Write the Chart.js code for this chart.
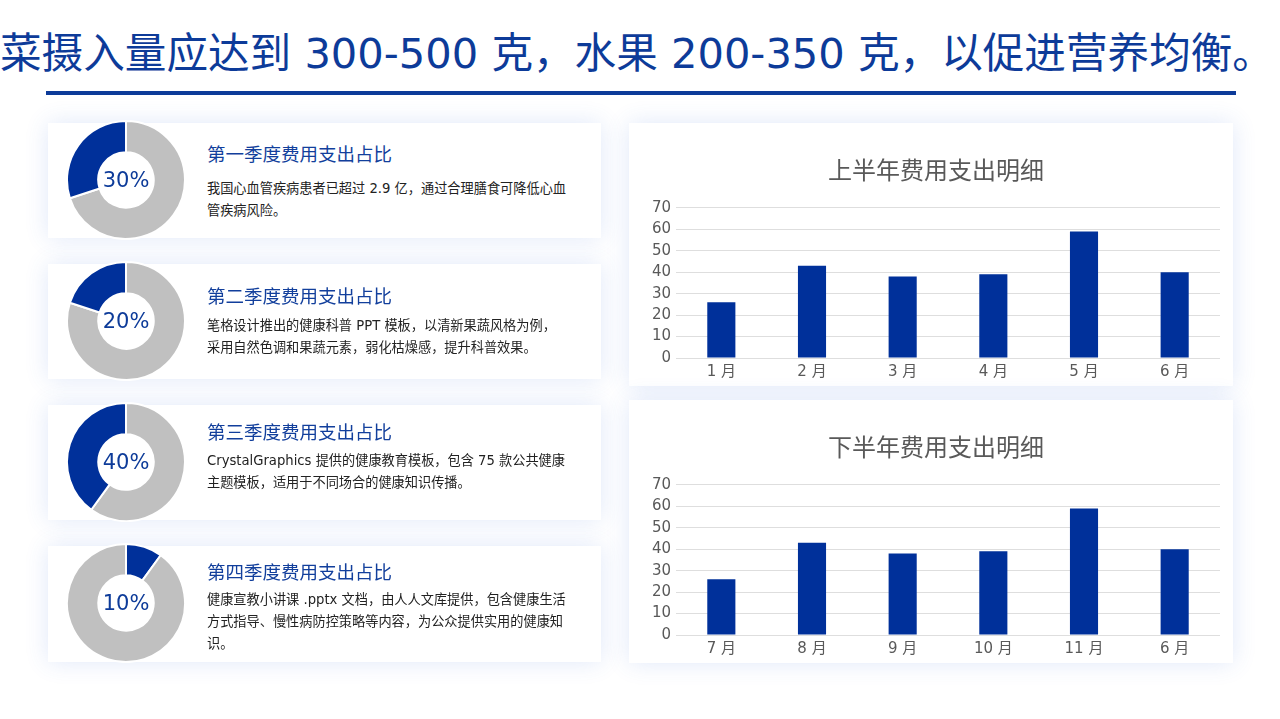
<!DOCTYPE html>
<html lang="zh">
<head>
<meta charset="utf-8">
<script src="https://cdn.jsdelivr.net/npm/chart.js@4"></script>
<style>
  html, body { margin: 0; padding: 0; background: #fff; }
  body { width: 1280px; height: 719px; overflow: hidden; position: relative;
         font-family: "DejaVu Sans", "Noto Sans CJK SC", sans-serif; }
  .page-title { position: absolute; left: 0; top: 29px; font-size: 41.6px; line-height: 50px;
                color: #0d3b99; white-space: nowrap; }
  .rule { position: absolute; left: 46px; top: 91px; width: 1190px; height: 4px; background: #0d3b99; }
  .card { position: absolute; background: #fff; box-shadow: 0 0 22px rgba(60, 110, 220, 0.16); }
  .donut { position: absolute; width: 120px; height: 120px; }
  .pct { position: absolute; width: 120px; height: 120px; line-height: 120px; text-align: center;
         font-size: 21px; color: #0d3b99; }
  .q-title { position: absolute; left: 207px; font-size: 18.5px; line-height: 24px; color: #123f9c; white-space: nowrap; }
  .q-text { position: absolute; left: 207px; font-size: 13.2px; line-height: 22px; color: #222; white-space: nowrap; }
  .bar-card { position: absolute; left: 629px; width: 604px; height: 263px; }
</style>
</head>
<body>
<div class="page-title">菜摄入量应达到 300-500 克，水果 200-350 克，以促进营养均衡。</div>
<div class="rule"></div>
<div id="quarters"></div>
<div class="card bar-card" style="top:123px"><canvas id="chart-h1"></canvas></div>
<div class="card bar-card" style="top:400px"><canvas id="chart-h2"></canvas></div>

<script>
// quarter share donuts
const quarterTitles = ['第一季度费用支出占比', '第二季度费用支出占比', '第三季度费用支出占比', '第四季度费用支出占比'];
const quarterShares = [30, 20, 40, 10];
const quarterBlueFirst = [false, false, false, true];
const quarterTexts = [
  ['我国心血管疾病患者已超过 2.9 亿，通过合理膳食可降低心血', '管疾病风险。'],
  ['笔格设计推出的健康科普 PPT 模板，以清新果蔬风格为例，', '采用自然色调和果蔬元素，弱化枯燥感，提升科普效果。'],
  ['CrystalGraphics 提供的健康教育模板，包含 75 款公共健康', '主题模板，适用于不同场合的健康知识传播。'],
  ['健康宣教小讲课 .pptx 文档，由人人文库提供，包含健康生活', '方式指导、慢性病防控策略等内容，为公众提供实用的健康知', '识。']
];

// half-year bars
const h1Title = '上半年费用支出明细';
const h1Labels = ['1 月', '2 月', '3 月', '4 月', '5 月', '6 月'];
const h1Values = [26, 43, 38, 39, 59, 40];
const h2Title = '下半年费用支出明细';
const h2Labels = ['7 月', '8 月', '9 月', '10 月', '11 月', '6 月'];
const h2Values = [26, 43, 38, 39, 59, 40];
const yTicksMax = 70;

const BLUE = '#00309a';
const GREY = '#c0c0c0';
const FONT = '"DejaVu Sans", "Noto Sans CJK SC", sans-serif';
Chart.defaults.font.family = FONT;

// layout of the left cards
const cardTops = [123, 264, 405, 546];
const cardHeights = [115, 115, 115, 116];
const donutCentres = [180, 321, 462, 603];
const titleTops = [143, 285, 421, 561];
const textTops = [178, 315, 450, 589];

const wrap = document.getElementById('quarters');
quarterShares.forEach((share, i) => {
  wrap.insertAdjacentHTML('beforeend', `
    <div class="card" style="left:48px;top:${cardTops[i]}px;width:553px;height:${cardHeights[i]}px"></div>
    <div class="donut" style="left:66px;top:${donutCentres[i] - 60}px"><canvas id="donut-${i}"></canvas></div>
    <div class="pct" style="left:66px;top:${donutCentres[i] - 60}px">${share}%</div>
    <div class="q-title" style="top:${titleTops[i]}px">${quarterTitles[i]}</div>
    <div class="q-text" style="top:${textTops[i]}px">${quarterTexts[i].join('<br>')}</div>
  `);
});

quarterShares.forEach((share, i) => {
  const first = quarterBlueFirst[i];
  new Chart(document.getElementById('donut-' + i), {
    type: 'doughnut',
    data: {
      labels: first ? ['占比', '其他'] : ['其他', '占比'],
      datasets: [{
        data: first ? [share, 100 - share] : [100 - share, share],
        backgroundColor: first ? [BLUE, GREY] : [GREY, BLUE],
        borderColor: '#fff',
        borderWidth: 2
      }]
    },
    options: {
      responsive: true,
      maintainAspectRatio: false,
      animation: false,
      cutout: '47%',
      layout: { padding: 0 },
      plugins: { legend: { display: false }, tooltip: { enabled: false } }
    }
  });
});

function barChart(id, title, labels, values) {
  return new Chart(document.getElementById(id), {
    type: 'bar',
    data: {
      labels,
      datasets: [{
        data: values,
        backgroundColor: BLUE,
        barPercentage: 0.31,
        categoryPercentage: 1
      }]
    },
    options: {
      responsive: true,
      maintainAspectRatio: false,
      animation: false,
      layout: { padding: { top: 35, left: 23, right: 13, bottom: 0 } },
      plugins: {
        legend: { display: false },
        tooltip: { enabled: false },
        title: {
          display: true,
          text: title,
          color: '#595959',
          font: { size: 24, weight: 'normal' },
          padding: { top: 0, bottom: 21 }
        }
      },
      scales: {
        x: {
          grid: { display: false, drawTicks: false, tickLength: 0 },
          border: { display: false },
          ticks: { color: '#595959', font: { size: 15 }, padding: 5 }
        },
        y: {
          min: 0,
          max: yTicksMax,
          afterFit: s => { s.width = 24; },
          grid: { color: '#dedede', drawTicks: false, tickLength: 0 },
          border: { display: false },
          ticks: { stepSize: 10, color: '#595959', font: { size: 15 }, padding: 5 }
        }
      }
    }
  });
}

barChart('chart-h1', h1Title, h1Labels, h1Values);
barChart('chart-h2', h2Title, h2Labels, h2Values);
</script>
</body>
</html>
